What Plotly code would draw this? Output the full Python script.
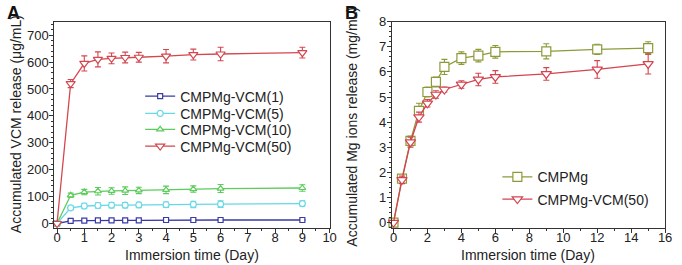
import plotly.graph_objects as go

# ---------------- Data ----------------
time_a = [0, 0.5, 1, 1.5, 2, 2.5, 3, 4, 5, 6, 9]
vcm1 = [0, 10, 11, 12, 12, 12, 12, 13, 13, 13, 13]
vcm1_err = [0, 2, 2, 2, 2, 2, 2, 2, 2, 2, 2]
vcm5 = [0, 58, 65, 67, 68, 68, 69, 70, 71, 72, 74]
vcm5_err = [0, 8, 10, 10, 10, 10, 10, 10, 12, 12, 10]
vcm10 = [0, 105, 117, 120, 121, 122, 123, 125, 128, 130, 132]
vcm10_err = [0, 8, 10, 14, 12, 14, 12, 14, 12, 15, 12]
vcm50 = [0, 520, 595, 610, 614, 617, 618, 622, 628, 630, 635]
vcm50_err = [0, 15, 28, 28, 20, 20, 18, 25, 20, 25, 20]

time_b = [0, 0.5, 1, 1.5, 2, 2.5, 3, 4, 5, 6, 9, 12, 15]
mg_cmpmg = [0, 1.75, 3.25, 4.45, 5.2, 5.6, 6.2, 6.55, 6.65, 6.8, 6.82, 6.9, 6.95]
mg_cmpmg_err = [0, 0.15, 0.2, 0.3, 0.2, 0.2, 0.3, 0.25, 0.25, 0.25, 0.3, 0.2, 0.25]
mg_vcm50 = [0, 1.7, 3.2, 4.2, 4.75, 5.1, 5.3, 5.5, 5.7, 5.8, 5.92, 6.1, 6.32]
mg_vcm50_err = [0, 0.15, 0.2, 0.2, 0.15, 0.15, 0.1, 0.15, 0.25, 0.25, 0.25, 0.35, 0.4]

names_a = ["CMPMg-VCM(1)", "CMPMg-VCM(5)", "CMPMg-VCM(10)", "CMPMg-VCM(50)"]
names_b = ["CMPMg", "CMPMg-VCM(50)"]

FONT = "Arial, Liberation Sans, sans-serif"
TXT = "#222222"
W, H = 682, 265

fig = go.Figure()

def add(x, y, err, name, color, symbol, size, xa, ya, legend):
    fig.add_trace(go.Scatter(
        x=x, y=y, name=name, mode="lines+markers", showlegend=True,
        line=dict(color=color, width=1.3),
        marker=dict(symbol=symbol, size=size, color="white",
                    line=dict(color=color, width=1.2)),
        error_y=dict(type="data", array=err, color=color, thickness=1.1, width=3),
        xaxis=xa, yaxis=ya, legend=legend, cliponaxis=False))

cols_a = ["#3a3aa6", "#66d8e6", "#5ccc5c", "#d4474f"]
syms_a = ["square", "circle", "triangle-up", "triangle-down"]
sizes_a = [5, 6, 6, 8]
series_a = [(vcm1, vcm1_err), (vcm5, vcm5_err), (vcm10, vcm10_err), (vcm50, vcm50_err)]
legs_a = ["legend", "legend2", "legend3", "legend4"]
for (y, e), n, c, s, sz, lg in zip(series_a, names_a, cols_a, syms_a, sizes_a, legs_a):
    add(time_a, y, e, n, c, s, sz, "x", "y", lg)

cols_b = ["#8e9a3a", "#d4434f"]
syms_b = ["square", "triangle-down"]
series_b = [(mg_cmpmg, mg_cmpmg_err), (mg_vcm50, mg_vcm50_err)]
legs_b = ["legend5", "legend6"]
for (y, e), n, c, s, lg in zip(series_b, names_b, cols_b, syms_b, legs_b):
    add(time_b, y, e, n, c, s, 9, "x2", "y2", lg)

ydom = [35.8 / H, 249.7 / H]
axis_common = dict(showline=True, linecolor="#333333", linewidth=1, mirror=True,
                   ticks="outside", ticklen=4, tickwidth=1, tickcolor="#333333",
                   showgrid=False, zeroline=False,
                   tickfont=dict(family=FONT, size=13, color=TXT))

def leg(xpx, ypx):
    return dict(x=xpx / W, y=(H - ypx) / H, xanchor="left", yanchor="middle",
                bgcolor="rgba(0,0,0,0)", font=dict(family=FONT, size=14, color=TXT),
                itemwidth=30)

fig.update_layout(
    width=W, height=H, autosize=False, showlegend=True,
    margin=dict(l=0, r=0, t=0, b=0),
    paper_bgcolor="white", plot_bgcolor="white",
    font=dict(family=FONT, color=TXT),
    xaxis=dict(domain=[53 / W, 332 / W], range=[-0.1, 10], dtick=1, anchor="y",
               ticklabelstandoff=-6,
               minor=dict(dtick=0.5, ticklen=2, tickcolor="#333333", ticks="outside"),
               **axis_common),
    yaxis=dict(domain=ydom, range=[-15, 750], dtick=100, anchor="x",
               ticklabelstandoff=-2,
               minor=dict(dtick=20, ticklen=2, tickcolor="#333333", ticks="outside"),
               **axis_common),
    xaxis2=dict(domain=[395 / W, 672 / W], range=[-0.1, 16], dtick=2, anchor="y2",
                ticklabelstandoff=-6,
                minor=dict(dtick=1, ticklen=2, tickcolor="#333333", ticks="outside"),
                **axis_common),
    yaxis2=dict(domain=ydom, range=[-0.2, 8], dtick=1, anchor="x2",
                ticklabelstandoff=-2,
                minor=dict(dtick=0.2, ticklen=2, tickcolor="#333333", ticks="outside"),
                **axis_common),
    legend=leg(140, 93),
    legend2=leg(140, 111),
    legend3=leg(140, 127.5),
    legend4=leg(140, 145),
    legend5=leg(502, 177),
    legend6=leg(502, 200),
)

ann = [
    dict(text="<b>A</b>", x=3 / W, y=1, xanchor="left", yanchor="top", yshift=6,
         font=dict(size=18, color="#111")),
    dict(text="<b>B</b>", x=346 / W, y=1, xanchor="left", yanchor="top", yshift=6,
         font=dict(size=18, color="#111")),
    dict(text="Immersion time (Day)", x=(53 + 332) / 2 / W, y=1 - 258 / H,
         xanchor="center", yanchor="middle", font=dict(size=14, color=TXT)),
    dict(text="Immersion time (Day)", x=(395 + 672) / 2 / W, y=1 - 258 / H,
         xanchor="center", yanchor="middle", font=dict(size=14, color=TXT)),
    dict(text="Accumulated VCM release (μg/mL)", x=15 / W, y=1 - 122 / H,
         xanchor="center", yanchor="middle", textangle=-90,
         font=dict(size=14, color=TXT)),
    dict(text="Accumulated Mg ions release (mg/mL)", x=355 / W, y=1 - 124 / H,
         xanchor="center", yanchor="middle", textangle=-90,
         font=dict(size=14, color=TXT)),
]
for a in ann:
    a.update(xref="paper", yref="paper", showarrow=False)
    a["font"]["family"] = FONT
fig.update_layout(annotations=ann)

post = ("document.documentElement.style.margin='0px';"
        "document.body.style.margin='0px';"
        "document.documentElement.style.overflow='hidden';"
        "document.body.style.overflow='hidden';")

fig.write_html("out.html", config={"displayModeBar": False}, post_script=post)
